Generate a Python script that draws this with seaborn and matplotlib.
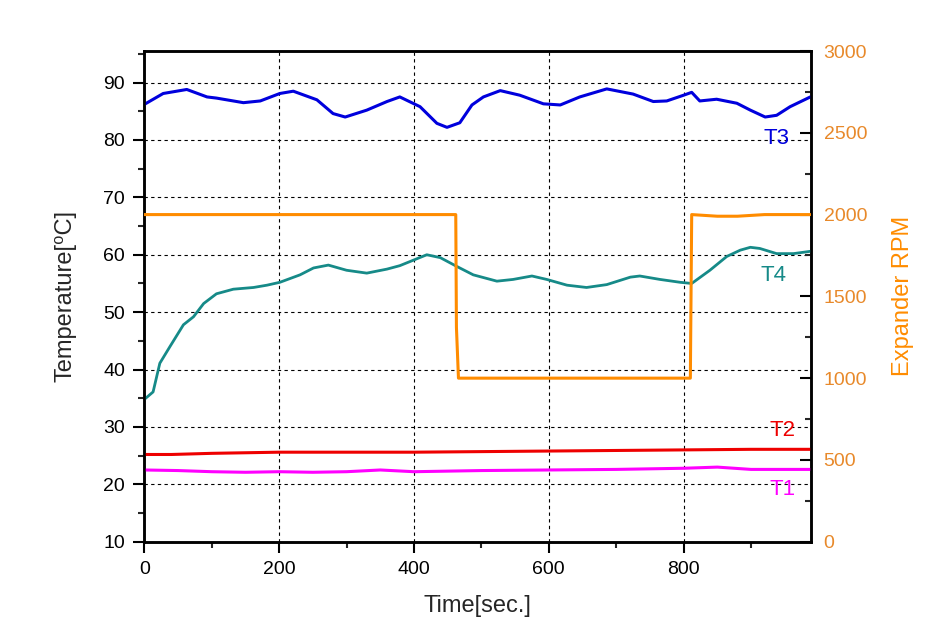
import matplotlib
matplotlib.use("Agg")
import matplotlib.pyplot as plt
from matplotlib.ticker import MultipleLocator
import seaborn as sns
import pandas as pd

# ---- data ----
t3_time = [0, 28, 63, 93, 107, 147, 172, 201, 221, 256, 280, 298, 330, 360, 379, 409, 434, 449, 468,
           486, 503, 528, 557, 592, 617, 646, 686, 725, 755, 775, 800, 812, 824, 849, 879, 899, 921,
           938, 958, 988]
t3_vals = [86.2, 88.1, 88.8, 87.5, 87.3, 86.5, 86.8, 88.1, 88.5, 87.0, 84.6, 84.0, 85.2, 86.7, 87.5,
           85.8, 82.9, 82.2, 83.0, 86.1, 87.5, 88.6, 87.8, 86.3, 86.1, 87.5, 88.9, 88.0, 86.7, 86.8,
           87.8, 88.3, 86.8, 87.1, 86.4, 85.2, 84.0, 84.3, 85.8, 87.5]

t4_time = [0, 13, 23, 38, 58, 73, 88, 107, 132, 162, 182, 201, 231, 251, 273, 300, 330, 360, 379,
           419, 439, 463, 488, 523, 547, 575, 597, 627, 656, 686, 721, 735, 765, 795, 812, 839, 864,
           884, 899, 913, 938, 963, 988]
t4_vals = [34.8, 36.1, 41.1, 44.0, 47.8, 49.2, 51.5, 53.2, 54.0, 54.3, 54.7, 55.2, 56.5, 57.7, 58.2,
           57.3, 56.8, 57.5, 58.1, 60.0, 59.5, 58.0, 56.5, 55.4, 55.7, 56.3, 55.7, 54.7, 54.3, 54.8,
           56.1, 56.3, 55.7, 55.2, 55.0, 57.3, 59.7, 60.8, 61.3, 61.1, 60.2, 60.2, 60.6]

t2_time = [0, 40, 100, 200, 300, 400, 500, 600, 700, 800, 900, 988]
t2_vals = [25.2, 25.2, 25.4, 25.6, 25.6, 25.6, 25.7, 25.8, 25.9, 26.0, 26.1, 26.1]

t1_time = [0, 50, 100, 150, 200, 250, 300, 350, 400, 450, 500, 600, 700, 800, 850, 900, 988]
t1_vals = [22.5, 22.4, 22.2, 22.1, 22.2, 22.1, 22.2, 22.5, 22.2, 22.3, 22.4, 22.5, 22.6, 22.8, 23.0,
           22.6, 22.6]

rpm_time = [0, 462, 463, 466, 810, 812, 850, 880, 920, 988]
rpm_vals = [2000, 2000, 1310, 1000, 1000, 2000, 1990, 1990, 2000, 2000]

series_labels = ["T1", "T2", "T3", "T4"]

# ---- style ----
sns.set_style("white")
plt.rcParams['font.family'] = ['Liberation Sans', 'DejaVu Sans']

C_T1 = "#FF00FF"
C_T2 = "#EE0000"
C_T3 = "#0000DD"
C_T4 = "#168A88"
C_RPM = "#FF8C00"
C_RPM_TXT = "#E8892A"

fig = plt.figure(figsize=(9.39, 6.33), dpi=100)
ax = fig.add_axes([0.1537, 0.1442, 0.7100, 0.7752])
ax2 = ax.twinx()

df1 = pd.DataFrame({"t": t1_time, "v": t1_vals})
df2 = pd.DataFrame({"t": t2_time, "v": t2_vals})
df3 = pd.DataFrame({"t": t3_time, "v": t3_vals})
df4 = pd.DataFrame({"t": t4_time, "v": t4_vals})
dfr = pd.DataFrame({"t": rpm_time, "v": rpm_vals})

sns.lineplot(data=df3, x="t", y="v", ax=ax, color=C_T3, lw=2.2, zorder=3)
sns.lineplot(data=df4, x="t", y="v", ax=ax, color=C_T4, lw=2.0, zorder=3)
sns.lineplot(data=df2, x="t", y="v", ax=ax, color=C_T2, lw=2.2, zorder=3)
sns.lineplot(data=df1, x="t", y="v", ax=ax, color=C_T1, lw=2.2, zorder=3)
sns.lineplot(data=dfr, x="t", y="v", ax=ax2, color=C_RPM, lw=2.2, zorder=3)

ax.set_xlim(0, 989)
ax.set_ylim(10, 95.5)
ax2.set_ylim(0, 3000)

ax.xaxis.set_major_locator(MultipleLocator(200))
ax.xaxis.set_minor_locator(MultipleLocator(100))
ax.yaxis.set_major_locator(MultipleLocator(10))
ax.yaxis.set_minor_locator(MultipleLocator(5))
ax2.yaxis.set_major_locator(MultipleLocator(500))
ax2.yaxis.set_minor_locator(MultipleLocator(250))

ax.grid(True, which="major", color="black", linestyle=(0, (3, 3)), linewidth=0.8)
ax.set_axisbelow(True)

ax.tick_params(axis="both", which="major", direction="out", length=8, width=1.5,
               labelsize=14, colors="black", bottom=True, left=True, top=False, right=False,
               pad=6)
ax.tick_params(axis="both", which="minor", direction="out", length=4, width=1.5,
               bottom=True, left=True, top=False, right=False)
ax2.tick_params(axis="y", which="major", direction="in", length=8, width=1.5,
                labelsize=14, labelcolor=C_RPM_TXT, color="black", right=True, left=False,
                pad=9)
ax2.tick_params(axis="y", which="minor", direction="in", length=4, width=1.5, right=True,
                left=False)
ax2.tick_params(axis="x", which="both", top=False, bottom=False)

for a in (ax, ax2):
    for s in a.spines.values():
        s.set_linewidth(1.8)
        s.set_color("black")
        s.set_visible(True)

ax.set_xlabel("Time[sec.]", fontsize=17, labelpad=12)
ax.set_ylabel("Temperature[\u2070C]", fontsize=17, labelpad=19)
ax2.set_ylabel("Expander RPM", fontsize=17, color=C_RPM, labelpad=18)

ax.text(938, 80.3, "T3", color=C_T3, fontsize=16, ha="center", va="center")
ax.text(933, 56.3, "T4", color=C_T4, fontsize=16, ha="center", va="center")
ax.text(947, 29.3, "T2", color=C_T2, fontsize=16, ha="center", va="center")
ax.text(947, 19.1, "T1", color=C_T1, fontsize=16, ha="center", va="center")

fig.savefig("out.png", dpi=100, facecolor="white")
